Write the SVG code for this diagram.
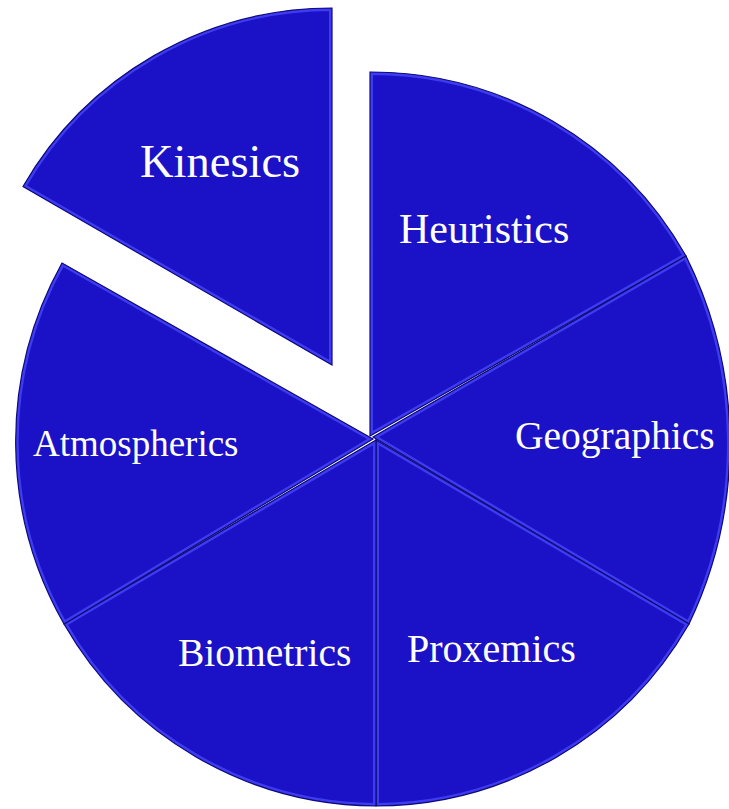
<svg xmlns="http://www.w3.org/2000/svg" xmlns:xlink="http://www.w3.org/1999/xlink" width="729" height="809" viewBox="0 0 729 809">
<style>
.base{fill:#1b11c6}
.bevel{fill:none;stroke:#3e3cf2;stroke-width:6}
.edge{fill:none;stroke:#100a78;stroke-width:1.2}
.lbl{font-family:"Liberation Serif","Times New Roman",serif;fill:#ffffff}
</style>
<defs>
<path id="pk" d="M332,365 L23,186.5 A357,357 0 0 1 332,8 Z"/>
<path id="ph" d="M370,436 L370,72 A362,362 0 0 1 686,256 Z"/>
<path id="pg" d="M373,437 L686,256 A420,420 0 0 1 689,624 Z"/>
<path id="pp" d="M376,440 L689,624 A362,362 0 0 1 376,806 Z"/>
<path id="pb" d="M376,440 L376,806 A362,362 0 0 1 64,624 Z"/>
<path id="pa" d="M373,439 L64,624 A368,368 0 0 1 62,263 Z"/>
<clipPath id="ck"><use xlink:href="#pk"/></clipPath>
<clipPath id="ch"><use xlink:href="#ph"/></clipPath>
<clipPath id="cg"><use xlink:href="#pg"/></clipPath>
<clipPath id="cp"><use xlink:href="#pp"/></clipPath>
<clipPath id="cb"><use xlink:href="#pb"/></clipPath>
<clipPath id="ca"><use xlink:href="#pa"/></clipPath>
</defs>
<g id="kinesics">
<use xlink:href="#pk" class="base"/><use xlink:href="#pk" class="bevel" clip-path="url(#ck)"/><use xlink:href="#pk" class="edge"/>
<text class="lbl" x="140" y="177" font-size="46.5">Kinesics</text>
</g>
<g id="heuristics">
<use xlink:href="#ph" class="base"/><use xlink:href="#ph" class="bevel" clip-path="url(#ch)"/><use xlink:href="#ph" class="edge"/>
<text class="lbl" x="399" y="243" font-size="42">Heuristics</text>
</g>
<g id="geographics">
<use xlink:href="#pg" class="base"/><use xlink:href="#pg" class="bevel" clip-path="url(#cg)"/><use xlink:href="#pg" class="edge"/>
<text class="lbl" x="515" y="449" font-size="39.5">Geographics</text>
</g>
<g id="proxemics">
<use xlink:href="#pp" class="base"/><use xlink:href="#pp" class="bevel" clip-path="url(#cp)"/><use xlink:href="#pp" class="edge"/>
<text class="lbl" x="407" y="662" font-size="40">Proxemics</text>
</g>
<g id="biometrics">
<use xlink:href="#pb" class="base"/><use xlink:href="#pb" class="bevel" clip-path="url(#cb)"/><use xlink:href="#pb" class="edge"/>
<text class="lbl" x="178" y="666" font-size="39.5">Biometrics</text>
</g>
<g id="atmospherics">
<use xlink:href="#pa" class="base"/><use xlink:href="#pa" class="bevel" clip-path="url(#ca)"/><use xlink:href="#pa" class="edge"/>
<text class="lbl" x="33" y="456" font-size="37">Atmospherics</text>
</g>
<g id="connectors"></g>
</svg>
